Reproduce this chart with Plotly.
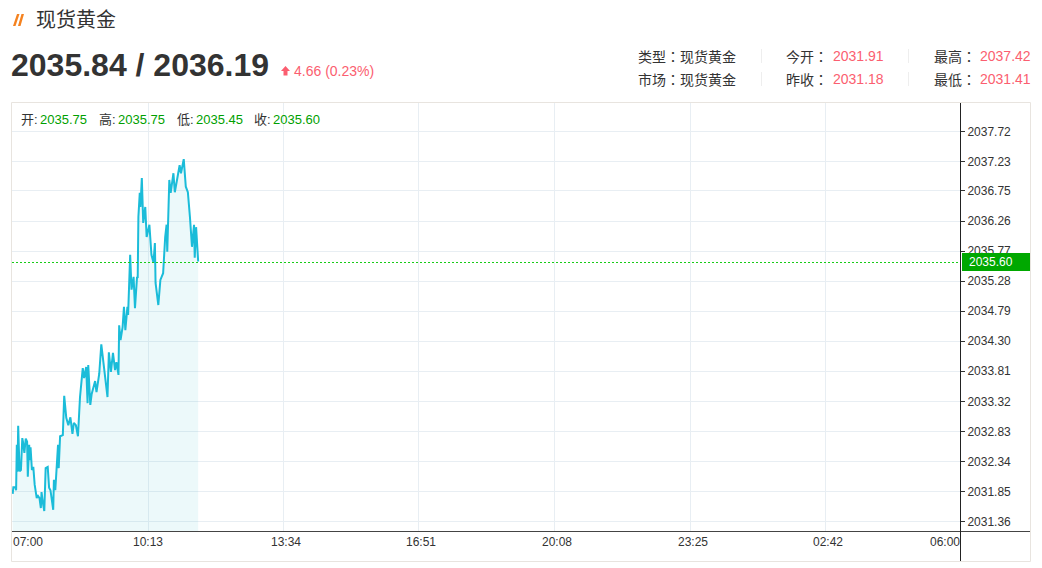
import plotly.graph_objects as go

W, H = 1042, 568

# ---- data ----
minutes = [1,2,5,6,7,8,9,11,13,15,16,18,20,22,23,25,26,27,29,31,33,36,37,40,42,43,45,47,49,52,54,56,60,61,63,67,68,70,74,76,
           79,82,85,88,90,93,96,99,103,105,108,110,111,114,116,121,123,127,130,133,135,139,141,144,147,150,152,155,156,158,
           161,163,165,168,169,172,174,177,179,182,183,184,186,187,189,191,194,196,200,203,206,208,209,213,216,220,223,225,
           226,229,231,235,237,241,244,246,250,253,256,259,262,265,266,268,271]
prices = [2031.81,2031.92,2031.92,2031.87,2032.61,2032.17,2032.92,2032.18,2032.20,2032.72,2032.66,2032.48,2032.71,2032.66,
          2032.09,2032.61,2032.36,2032.57,2032.20,2032.25,2031.96,2031.74,2031.79,2031.74,2031.58,2031.84,2031.66,2031.53,
          2032.23,2032.25,2031.91,2031.87,2031.55,2032.04,2031.87,2032.61,2032.23,2032.75,2032.77,2033.41,2033.05,2032.93,
          2033.06,2032.79,2032.97,2032.93,2032.75,2033.39,2033.86,2033.70,2033.88,2033.29,2033.91,2033.26,2033.44,2033.65,
          2033.47,2033.77,2034.25,2033.94,2033.72,2033.39,2034.12,2033.80,2034.11,2033.83,2033.96,2033.75,2034.56,2034.32,
          2034.53,2034.86,2034.48,2034.86,2034.73,2035.71,2035.14,2035.35,2034.84,2035.35,2035.33,2036.33,2036.72,2036.49,
          2036.96,2036.23,2036.49,2036.00,2036.20,2035.71,2035.58,2035.90,2035.25,2034.89,2035.30,2035.41,2036.00,2036.20,
          2035.76,2036.93,2036.72,2037.04,2036.73,2036.96,2037.17,2037.04,2037.27,2036.82,2036.73,2036.33,2035.84,2036.20,
          2035.66,2036.16,2035.60]
y_ticks = [2037.72,2037.23,2036.75,2036.26,2035.77,2035.28,2034.79,2034.30,2033.81,2033.32,2032.83,2032.34,2031.85,2031.36]
x_ticks = [0,198,395,592,790,987,1184,1380]
x_labels = ["07:00","10:13","13:34","16:51","20:08","23:25","02:42","06:00"]
last_price = 2035.60
ohlc_names = ["开:","高:","低:","收:"]
ohlc_values = ["2035.75","2035.75","2035.45","2035.60"]
title_text = "现货黄金"
quote_text = "2035.84 / 2036.19"
change_text = "4.66 (0.23%)"
info_plain = ["类型：现货黄金","市场：现货黄金"]
info_names = [["今开：","昨收："],["最高：","最低："]]
info_values = [["2031.91","2031.18"],["2037.42","2031.41"]]

# ---- styles ----
FONT = "Liberation Sans, Arial, Noto Sans CJK SC, sans-serif"
DARK = "#333333"
RED = "#fb5e70"
GREEN = "#009f00"
GRID = "#e8eef3"
LINE = "#1bbcd9"
BORDER = "#e8e4df"

fx = lambda p: p / W
fy = lambda p: 1 - p / H

def colon(s):
    return s.replace("：", "<span style='font-family:Noto Sans CJK TC'>：</span>")

def text(px, py, s, size=14, color=DARK, anchor="left", bold=False):
    return dict(xref="paper", yref="paper", x=fx(px), y=fy(py), text=f"<b>{s}</b>" if bold else s,
                showarrow=False, xanchor=anchor, yanchor="middle", xshift=-1,
                font=dict(family=FONT, size=size, color=color), borderwidth=0)

def rule(x0, y0, x1, y1, color, width=1, dash="solid", layer="above"):
    return dict(type="line", xref="paper", yref="paper", x0=fx(x0), y0=fy(y0), x1=fx(x1), y1=fy(y1),
                line=dict(color=color, width=width, dash=dash), layer=layer)

def poly(points, color):
    d = "M" + " L".join(f"{fx(a):.5f},{fy(b):.5f}" for a, b in points) + " Z"
    return dict(type="path", xref="paper", yref="paper", path=d, fillcolor=color, line=dict(width=0), layer="above")

fig = go.Figure()
fig.add_trace(go.Scatter(
    x=minutes, y=prices, mode="lines", line=dict(color=LINE, width=2),
    fill="tozeroy", fillcolor="rgba(30,190,200,0.085)", hoverinfo="x+y", showlegend=False))

anns = [
    text(36, 20, title_text, size=20),
    text(11, 65, quote_text, size=32, bold=True),
    text(294, 71, change_text, size=14, color=RED),
]
for px, name in zip([21, 99, 177, 254], ohlc_names):
    anns.append(text(px, 119, name, size=13))
for px, val in zip([40, 118, 196, 273], ohlc_values):
    anns.append(text(px, 119, val, size=13, color=GREEN))
for py, s in zip([56, 79], info_plain):
    anns.append(text(638, py, colon(s), size=14))
for col, (nx, vx) in enumerate([(786, 833), (934, 980)]):
    for row, py in enumerate([56, 79]):
        anns.append(text(nx, py, colon(info_names[col][row]), size=14))
        anns.append(text(vx, py, info_values[col][row], size=14, color=RED))

# time labels, pinned to their ticks
shifts = [-1, 0, 3, 2, 2, 3, 3, 2]
anchors = ["left"] + ["center"] * 6 + ["right"]
for val, lab, sh, anc in zip(x_ticks, x_labels, shifts, anchors):
    anns.append(dict(xref="x", yref="paper", x=val, y=fy(542), text=lab, showarrow=False, xanchor=anc,
                     yanchor="middle", xshift=sh, font=dict(family=FONT, size=12, color=DARK)))

# price flag text on the axis
anns.append(dict(xref="paper", yref="paper", x=fx(968), y=fy(262), text=f"{last_price:.2f}", showarrow=False,
                 xanchor="left", yanchor="middle", xshift=-1, font=dict(family=FONT, size=12, color="white")))

shapes = [
    rule(11.5, 102.5, 1030.5, 102.5, BORDER, layer="below"),
    rule(11.5, 102.5, 11.5, 561.5, BORDER, layer="below"),
    rule(1030.5, 102.5, 1030.5, 561.5, BORDER, layer="below"),
    rule(11.5, 561.5, 1030.5, 561.5, BORDER, layer="below"),
    rule(12, 531.5, 1030, 531.5, "#444444"),
    rule(960.5, 103, 960.5, 561, "#222222"),
    rule(761.5, 49, 761.5, 63, "#eeeeee"), rule(761.5, 72, 761.5, 86, "#eeeeee"),
    rule(908.5, 49, 908.5, 63, "#eeeeee"), rule(908.5, 72, 908.5, 86, "#eeeeee"),
    # price flag box
    dict(type="rect", xref="paper", yref="paper", x0=fx(962), x1=fx(1030), y0=fy(271), y1=fy(253),
         fillcolor="#00a800", line=dict(width=0), layer="above"),
    # dotted last-price line
    rule(12, 262.5, 960, 262.5, "#18cc18", width=1, dash="2px,2px"),
    # orange title mark
    poly([(13, 26), (15.5, 26), (19.5, 14), (17, 14)], "#f5821f"),
    poly([(18, 26), (20.5, 26), (24, 14), (21.5, 14)], "#f5821f"),
    # red up arrow
    poly([(285.5, 66), (290, 71), (287.5, 71), (287.5, 75.5), (283.5, 75.5), (283.5, 71), (281, 71)], RED),
]

fig.update_layout(
    width=W, height=H, margin=dict(l=0, r=0, t=0, b=0, autoexpand=False),
    paper_bgcolor="white", plot_bgcolor="white", font=dict(family=FONT, size=12, color=DARK),
    annotations=anns, shapes=shapes, showlegend=False,
    xaxis=dict(domain=[fx(12), fx(960)], range=[0, 1380], tickmode="array", tickvals=x_ticks,
               showticklabels=False, ticks="", showgrid=True, gridcolor=GRID, gridwidth=1,
               zeroline=False, showline=False, automargin=False),
    yaxis=dict(domain=[fy(531), fy(103)], range=[2031.205, 2038.185], side="right", tickmode="array",
               tickvals=y_ticks, ticktext=[f"{v:.2f}" for v in y_ticks], ticks="outside", ticklen=4,
               tickcolor="#333333", tickfont=dict(family=FONT, size=12, color=DARK), showgrid=True,
               gridcolor=GRID, gridwidth=1, zeroline=False, showline=False, automargin=False),
)

fig.write_html("out.html", config=dict(displayModeBar=False), post_script="document.body.style.margin='0';")
